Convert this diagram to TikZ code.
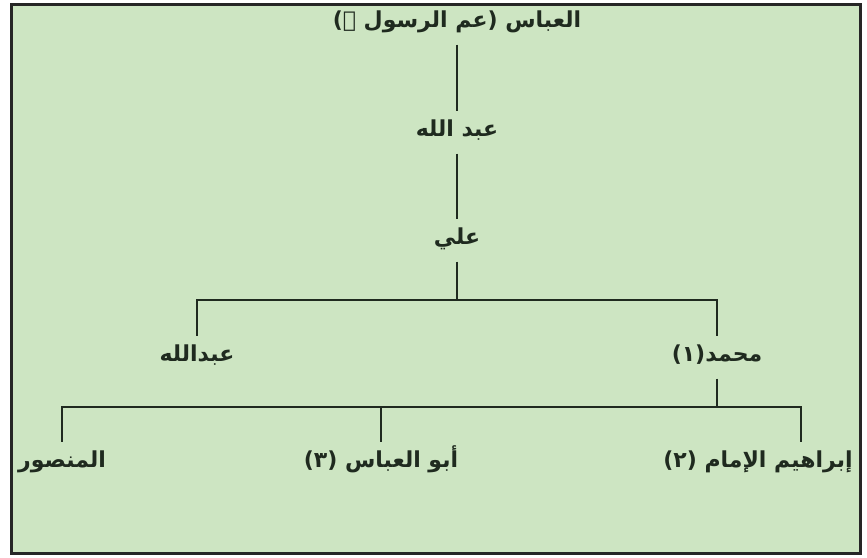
\documentclass[tikz,border=0pt]{standalone}
\usepackage{fontspec}
\newfontfamily\arabicfont[Script=Arabic]{DejaVu Sans}
\TeXXeTstate=1
\definecolor{PanelGreen}{HTML}{CDE5C2}
\definecolor{FrameDark}{HTML}{262626}
\definecolor{InkDark}{HTML}{1F2A1F}
\begin{document}
\begin{tikzpicture}[x=1pt,y=-1pt,
  person/.style={font=\arabicfont\bfseries\fontsize{22}{26}\selectfont, text=InkDark, inner xsep=2pt, inner ysep=0pt, text height=16pt, text depth=7pt, outer ysep=10pt},
  link/.style={draw=InkDark, line width=1.8pt}]
    \useasboundingbox (0,0) rectangle (867,557);
    \fill[white] (0,0) rectangle (867,557);
    \draw[fill=PanelGreen, draw=FrameDark, line width=3pt] (11,4) rectangle (860,553);

    % line of descent
    \node[person] (abbas) at (457,23) {\beginR العباس (عم الرسول {\mdseries ﷺ})\endR};
    \node[person] (abdallah) at (457,132) {\beginR عبد الله\endR};
    \node[person] (ali) at (457,240) {\beginR علي\endR};
    \node[person] (abdallah2) at (197,357) {\beginR عبدالله\endR};
    \node[person] (muhammad) at (717,357) {\beginR محمد(١)\endR};
    \node[person] (mansur) at (62,463) {\beginR المنصور\endR};
    \node[person] (abulabbas) at (381,463) {\beginR أبو العباس (٣)\endR};
    \node[person] (ibrahim) at (758,463) {\beginR إبراهيم الإمام (٢)\endR};
    \coordinate (fork1) at (457,300);
    \coordinate (fork2) at (717,407);

    \draw[link] (abbas) -- (abdallah);
    \draw[link] (abdallah) -- (ali);
    \draw[link] (ali) -- (fork1);
    \draw[link] (abdallah2) |- (fork1) -| (muhammad);
    \draw[link] (muhammad) -- (fork2);
    \draw[link] (mansur) |- (fork2) -| ([xshift=43pt]ibrahim.north);
    \draw[link] (abulabbas) -- (abulabbas |- fork2);
\end{tikzpicture}
\end{document}
